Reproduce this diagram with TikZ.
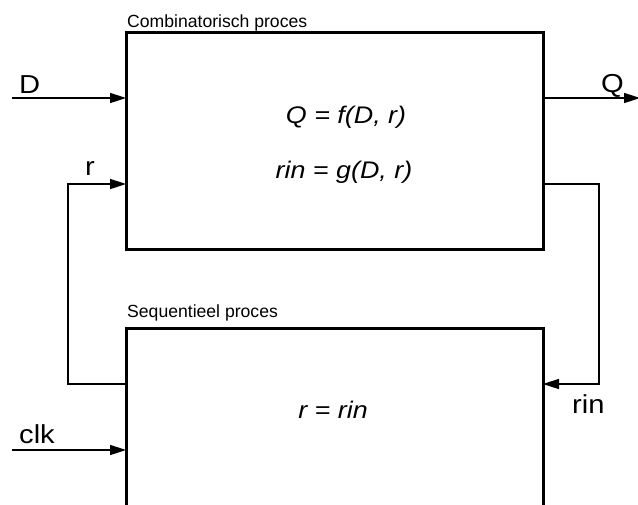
\documentclass[tikz,border=0pt]{standalone}
\usepackage{fontspec}
\setmainfont{Liberation Sans}
\newfontfamily\widesans[FakeStretch=1.12]{Liberation Sans}
\usetikzlibrary{arrows.meta}
\begin{document}
\begin{tikzpicture}[x=1pt,y=-1pt,
  procbox/.style={line width=3pt},
  wire/.style={line width=1.6pt},
  sig/.style={wire,-{Triangle[length=16pt,width=10pt]}},
  lbl/.style={font=\widesans\fontsize{26}{30}\selectfont,inner sep=0pt,anchor=base west},
  title/.style={font=\fontsize{17.6}{21}\selectfont,inner sep=0pt,anchor=base west},
  eq/.style={font=\widesans\fontsize{24}{28}\itshape\selectfont,inner sep=0pt,anchor=base}]
\useasboundingbox (0,0) rectangle (638,504);
\begin{scope}
\clip (0,0) rectangle (638,504);
% process blocks
\draw[procbox] (126,32) rectangle (543,249);
\draw[procbox] (126,328) rectangle (543,540);
% port points on the blocks
\coordinate (combD) at (126,98);
\coordinate (combR) at (126,184);
\coordinate (combQ) at (543,98);
\coordinate (combRin) at (543,184);
\coordinate (seqR) at (126,384);
\coordinate (seqRin) at (543,384);
\coordinate (seqClk) at (126,450);
% free ends
\coordinate (Din) at (12,98);
\coordinate (clkin) at (12,450);
\coordinate (Qout) at (640,98);
% connectors
\draw[sig] (Din) -- (combD);
\draw[sig] (clkin) -- (seqClk);
\draw[sig] (combQ) -- (Qout);
\draw[sig] (seqR) -| (68,250) |- (combR);
\draw[sig] (combRin) -| (599,300) |- (seqRin);
\end{scope}
% labels
\node[title] (tcomb) at (127,27) {Combinatorisch proces};
\node[title] (tseq) at (127,317) {Sequentieel proces};
\node[lbl] (lD) at (19,93) {D};
\node[lbl] (lQ) at (601,92) {Q};
\node[lbl] (lr) at (85,175) {r};
\node[lbl] (lclk) at (19,443) {clk};
\node[lbl] (lrin) at (572,413) {rin};
\node[eq] (e1) at (346,123) {Q = f(D, r)};
\node[eq] (e2) at (344,178) {rin = g(D, r)};
\node[eq] (e3) at (333,418) {r = rin};
\end{tikzpicture}
\end{document}
